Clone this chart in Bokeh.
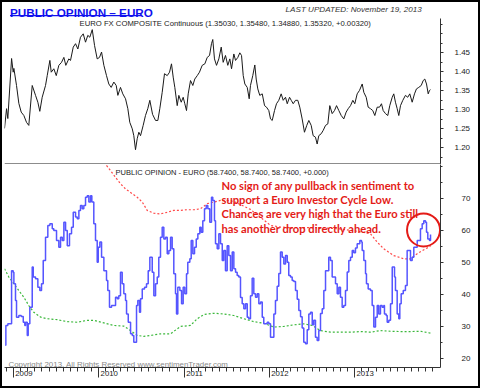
from bokeh.plotting import figure
from bokeh.models import (Range1d, FixedTicker, PrintfTickFormatter, Label,
                          BoxAnnotation, LinearAxis, Span, CustomJSTickFormatter)
from bokeh.layouts import column
from bokeh.core.properties import value
from bokeh.embed import file_html
from bokeh.resources import INLINE

FONT = "Liberation Sans"

# ---------------- data ----------------
price_dates = [2008.894, 2008.918, 2008.933, 2008.977, 2008.996, 2009.004, 2009.035, 2009.062, 2009.090, 2009.121,
               2009.152, 2009.179, 2009.219, 2009.258, 2009.285, 2009.308, 2009.336, 2009.375, 2009.395, 2009.426,
               2009.442, 2009.472, 2009.501, 2009.531, 2009.563, 2009.590, 2009.613, 2009.648, 2009.668, 2009.700,
               2009.727, 2009.754, 2009.785, 2009.817, 2009.844, 2009.871, 2009.894, 2009.923, 2009.950, 2009.981,
               2010.008, 2010.032, 2010.059, 2010.090, 2010.117, 2010.145, 2010.176, 2010.204, 2010.223, 2010.254,
               2010.281, 2010.313, 2010.340, 2010.363, 2010.392, 2010.410, 2010.430, 2010.450, 2010.469, 2010.489,
               2010.520, 2010.547, 2010.574, 2010.598, 2010.630, 2010.665, 2010.692, 2010.715, 2010.743, 2010.770,
               2010.802, 2010.829, 2010.852, 2010.872, 2010.891, 2010.919, 2010.938, 2010.966, 2010.989, 2011.008,
               2011.028, 2011.048, 2011.075, 2011.102, 2011.125, 2011.154, 2011.180, 2011.212, 2011.243, 2011.271,
               2011.298, 2011.321, 2011.336, 2011.356, 2011.380, 2011.407, 2011.435, 2011.458, 2011.485, 2011.512,
               2011.536, 2011.556, 2011.583, 2011.603, 2011.630, 2011.653, 2011.673, 2011.693, 2011.712, 2011.740,
               2011.763, 2011.778, 2011.805, 2011.829, 2011.845, 2011.864, 2011.887, 2011.916, 2011.943, 2011.966,
               2011.993, 2012.013, 2012.033, 2012.060, 2012.083, 2012.110, 2012.138, 2012.162, 2012.189, 2012.209,
               2012.236, 2012.256, 2012.279, 2012.306, 2012.333, 2012.356, 2012.384, 2012.411, 2012.438, 2012.462,
               2012.490, 2012.513, 2012.540, 2012.560, 2012.579, 2012.607, 2012.631, 2012.658, 2012.685, 2012.708,
               2012.736, 2012.763, 2012.787, 2012.814, 2012.842, 2012.872, 2012.900, 2012.924, 2012.951, 2012.978,
               2013.001, 2013.029, 2013.056, 2013.088, 2013.107, 2013.135, 2013.158, 2013.185, 2013.212, 2013.236,
               2013.264, 2013.291, 2013.314, 2013.334, 2013.361, 2013.388, 2013.411, 2013.440, 2013.458, 2013.478,
               2013.498, 2013.517, 2013.537, 2013.564, 2013.595, 2013.622, 2013.646, 2013.674, 2013.701, 2013.724,
               2013.751, 2013.780, 2013.803, 2013.822, 2013.842, 2013.862, 2013.877, 2013.889]
price_vals = [1.251, 1.303, 1.277, 1.435, 1.399, 1.409, 1.364, 1.317, 1.294, 1.285,
              1.267, 1.259, 1.364, 1.338, 1.320, 1.296, 1.333, 1.364, 1.390, 1.430,
              1.399, 1.408, 1.390, 1.417, 1.425, 1.438, 1.417, 1.434, 1.430, 1.465,
              1.474, 1.460, 1.491, 1.500, 1.478, 1.496, 1.491, 1.511, 1.469, 1.434,
              1.438, 1.452, 1.417, 1.390, 1.368, 1.359, 1.373, 1.364, 1.338, 1.359,
              1.342, 1.329, 1.303, 1.267, 1.250, 1.232, 1.195, 1.224, 1.241, 1.232,
              1.259, 1.285, 1.303, 1.325, 1.288, 1.272, 1.272, 1.303, 1.346, 1.395,
              1.390, 1.399, 1.421, 1.386, 1.359, 1.311, 1.338, 1.320, 1.333, 1.316,
              1.298, 1.342, 1.377, 1.364, 1.381, 1.390, 1.399, 1.417, 1.421, 1.438,
              1.443, 1.474, 1.485, 1.434, 1.417, 1.434, 1.465, 1.425, 1.443, 1.417,
              1.434, 1.408, 1.447, 1.430, 1.438, 1.450, 1.443, 1.390, 1.368, 1.359,
              1.329, 1.364, 1.390, 1.418, 1.381, 1.355, 1.338, 1.342, 1.311, 1.307,
              1.298, 1.276, 1.272, 1.298, 1.316, 1.325, 1.342, 1.325, 1.333, 1.316,
              1.333, 1.325, 1.316, 1.325, 1.325, 1.307, 1.276, 1.241, 1.259, 1.272,
              1.259, 1.232, 1.228, 1.210, 1.232, 1.237, 1.246, 1.259, 1.263, 1.311,
              1.290, 1.298, 1.311, 1.298, 1.285, 1.276, 1.294, 1.303, 1.311, 1.325,
              1.316, 1.342, 1.351, 1.368, 1.346, 1.333, 1.307, 1.303, 1.298, 1.285,
              1.307, 1.307, 1.316, 1.298, 1.290, 1.285, 1.311, 1.333, 1.342, 1.320,
              1.303, 1.285, 1.311, 1.325, 1.338, 1.333, 1.342, 1.320, 1.342, 1.355,
              1.359, 1.364, 1.377, 1.381, 1.368, 1.342, 1.351, 1.353]

sent_dates = [2008.903, 2008.910, 2008.933, 2008.977, 2008.996, 2009.004, 2009.023, 2009.035, 2009.062, 2009.090,
              2009.114, 2009.132, 2009.141, 2009.161, 2009.172, 2009.191, 2009.219, 2009.231, 2009.258, 2009.285,
              2009.308, 2009.328, 2009.348, 2009.375, 2009.402, 2009.426, 2009.454, 2009.472, 2009.504, 2009.531,
              2009.551, 2009.571, 2009.590, 2009.610, 2009.630, 2009.656, 2009.680, 2009.700, 2009.727, 2009.747,
              2009.766, 2009.785, 2009.805, 2009.824, 2009.844, 2009.864, 2009.883, 2009.903, 2009.918, 2009.941,
              2009.961, 2009.981, 2009.993, 2010.012, 2010.032, 2010.059, 2010.090, 2010.105, 2010.125, 2010.149,
              2010.176, 2010.196, 2010.216, 2010.234, 2010.254, 2010.274, 2010.293, 2010.313, 2010.325, 2010.345,
              2010.372, 2010.392, 2010.410, 2010.430, 2010.442, 2010.457, 2010.477, 2010.489, 2010.509, 2010.536,
              2010.559, 2010.579, 2010.598, 2010.626, 2010.645, 2010.665, 2010.685, 2010.703, 2010.723, 2010.743,
              2010.762, 2010.782, 2010.802, 2010.821, 2010.841, 2010.860, 2010.879, 2010.899, 2010.911, 2010.926,
              2010.950, 2010.970, 2010.989, 2011.008, 2011.028, 2011.043, 2011.067, 2011.083, 2011.102, 2011.122,
              2011.142, 2011.161, 2011.184, 2011.200, 2011.219, 2011.239, 2011.259, 2011.278, 2011.301, 2011.321,
              2011.336, 2011.356, 2011.368, 2011.388, 2011.407, 2011.427, 2011.447, 2011.465, 2011.485, 2011.505,
              2011.524, 2011.544, 2011.564, 2011.583, 2011.603, 2011.622, 2011.641, 2011.661, 2011.681, 2011.700,
              2011.720, 2011.740, 2011.758, 2011.778, 2011.798, 2011.817, 2011.837, 2011.857, 2011.876, 2011.896,
              2011.916, 2011.934, 2011.954, 2011.974, 2011.993, 2012.013, 2012.033, 2012.052, 2012.071, 2012.091,
              2012.110, 2012.130, 2012.150, 2012.169, 2012.189, 2012.209, 2012.227, 2012.247, 2012.267, 2012.286,
              2012.306, 2012.326, 2012.345, 2012.365, 2012.384, 2012.403, 2012.423, 2012.443, 2012.462, 2012.482,
              2012.502, 2012.520, 2012.540, 2012.560, 2012.579, 2012.599, 2012.619, 2012.638, 2012.658, 2012.696,
              2012.716, 2012.736, 2012.755, 2012.775, 2012.795, 2012.814, 2012.833, 2012.853, 2012.872, 2012.892,
              2012.912, 2012.931, 2012.951, 2012.971, 2012.989, 2013.009, 2013.029, 2013.060, 2013.080, 2013.088,
              2013.107, 2013.127, 2013.138, 2013.158, 2013.185, 2013.205, 2013.224, 2013.244, 2013.264, 2013.282,
              2013.302, 2013.322, 2013.341, 2013.349, 2013.369, 2013.381, 2013.400, 2013.420, 2013.440, 2013.458,
              2013.467, 2013.478, 2013.498, 2013.517, 2013.529, 2013.545, 2013.569, 2013.595, 2013.615, 2013.634,
              2013.654, 2013.674, 2013.693, 2013.713, 2013.733, 2013.751, 2013.771, 2013.791, 2013.810, 2013.830,
              2013.842, 2013.857, 2013.877, 2013.889]
sent_vals = [24.1, 30.3, 30.8, 47.4, 46.9, 43.3, 38.1, 32.9, 33.4, 33.1,
             31.3, 30.3, 31.3, 27.2, 30.8, 36.0, 48.5, 45.4, 44.9, 42.2,
             41.2, 43.3, 50.6, 57.8, 61.5, 62.0, 60.5, 59.9, 56.8, 54.7,
             57.8, 56.8, 62.5, 59.9, 55.2, 58.9, 60.9, 65.6, 64.1, 63.6,
             66.2, 67.7, 66.7, 67.7, 70.3, 70.8, 68.8, 70.8, 68.8, 62.0,
             56.8, 50.0, 54.7, 56.3, 51.6, 47.4, 44.3, 41.2, 36.0, 36.5,
             36.5, 39.1, 38.6, 39.6, 46.9, 43.3, 40.2, 38.1, 33.9, 31.3,
             27.7, 27.2, 25.1, 25.1, 36.5, 38.1, 34.4, 38.6, 41.7, 42.2,
             43.3, 47.4, 51.6, 46.9, 39.6, 43.3, 45.4, 51.6, 57.8, 60.9,
             57.3, 57.8, 52.7, 53.7, 57.8, 54.2, 46.4, 40.2, 33.9, 42.2,
             41.2, 37.1, 42.2, 40.2, 46.4, 50.0, 51.1, 56.8, 52.7, 54.7,
             57.3, 58.9, 60.9, 59.4, 63.0, 66.7, 67.7, 66.7, 62.5, 70.3,
             69.3, 63.0, 55.8, 54.2, 58.9, 55.8, 50.6, 53.7, 47.4, 55.2,
             52.1, 47.4, 53.2, 48.0, 46.9, 45.9, 45.4, 39.0, 37.1, 35.5,
             37.1, 32.9, 32.4, 39.6, 45.0, 40.2, 39.1, 40.2, 37.1, 37.6,
             32.9, 30.8, 30.8, 31.3, 30.8, 26.6, 26.6, 33.9, 38.1, 42.5,
             46.5, 53.2, 51.6, 49.5, 52.1, 50.0, 45.9, 45.4, 44.3, 44.0,
             41.2, 38.5, 35.0, 33.0, 29.5, 25.1, 24.6, 29.0, 33.9, 34.4,
             30.5, 31.9, 26.6, 25.6, 28.7, 34.0, 35.5, 41.2, 47.4, 51.6,
             50.6, 45.4, 45.4, 43.3, 40.2, 42.2, 39.1, 36.0, 36.5, 41.2,
             47.0, 50.6, 51.6, 53.7, 53.0, 54.5, 55.8, 56.8, 56.3, 53.7,
             50.6, 46.4, 43.3, 41.7, 41.2, 36.5, 29.8, 32.9, 36.5, 33.9,
             36.5, 36.0, 36.5, 33.9, 33.4, 31.3, 31.9, 37.1, 48.5, 48.5,
             45.4, 41.2, 33.9, 32.4, 37.1, 40.2, 41.2, 42.8, 53.7, 53.7,
             50.6, 51.6, 54.7, 54.7, 56.8, 56.8, 60.5, 62.0, 63.0, 62.5,
             59.4, 57.3, 56.8, 58.7]

upper_dates = [2010.090, 2010.137, 2010.196, 2010.254, 2010.313, 2010.392, 2010.450, 2010.509, 2010.567, 2010.645,
               2010.723, 2010.802, 2010.879, 2010.958, 2011.036, 2011.114, 2011.192, 2011.271, 2011.348, 2011.427,
               2011.505, 2011.583, 2011.661, 2011.778, 2011.896, 2012.013, 2012.130, 2012.247, 2012.365, 2012.482,
               2012.599, 2012.716, 2012.833, 2012.951, 2013.068, 2013.185, 2013.264, 2013.341, 2013.458, 2013.576,
               2013.654, 2013.733, 2013.830, 2013.889]
upper_vals = [80.2, 78.6, 76.5, 74.5, 72.9, 71.4, 70.3, 68.8, 66.2, 65.3,
              65.1, 65.6, 66.2, 66.2, 66.4, 66.4, 66.7, 68.3, 68.8, 69.3,
              69.3, 69.0, 68.0, 66.5, 64.0, 61.5, 61.0, 60.8, 60.8, 60.8,
              60.8, 60.6, 60.4, 60.0, 59.5, 58.9, 56.3, 54.2, 52.1, 51.1,
              51.1, 52.7, 54.2, 55.0]

lower_dates = [2008.894, 2008.945, 2009.004, 2009.062, 2009.121, 2009.179, 2009.238, 2009.317, 2009.395, 2009.512,
               2009.630, 2009.747, 2009.864, 2009.941, 2010.059, 2010.176, 2010.293, 2010.372, 2010.450, 2010.528,
               2010.606, 2010.723, 2010.841, 2010.958, 2011.075, 2011.154, 2011.231, 2011.348, 2011.465, 2011.583,
               2011.700, 2011.817, 2011.934, 2012.052, 2012.169, 2012.286, 2012.403, 2012.502, 2012.599, 2012.716,
               2012.833, 2012.951, 2013.068, 2013.185, 2013.302, 2013.420, 2013.537, 2013.654, 2013.771, 2013.889]
lower_vals = [48.0, 45.4, 43.3, 41.2, 39.1, 36.5, 34.4, 32.9, 32.4, 32.1,
              31.5, 31.3, 31.9, 31.9, 31.1, 30.3, 30.1, 28.7, 27.2, 26.9,
              27.2, 27.7, 27.7, 30.0, 30.3, 32.4, 33.7, 34.1, 33.9, 33.4,
              32.4, 31.5, 31.0, 29.8, 30.0, 30.5, 30.8, 30.3, 28.7, 28.2,
              28.2, 28.2, 28.4, 28.2, 28.7, 28.5, 28.4, 28.4, 28.5, 27.9]

year_ticks = [2009, 2010, 2011, 2012, 2013]
price_ticks = [1.20, 1.25, 1.30, 1.35, 1.40, 1.45]
sent_ticks = [20, 30, 40, 50, 60, 70]

title_text = "PUBLIC OPINION \u2013 EURO"
updated_text = "LAST UPDATED:  November 19, 2013"
price_caption = "EURO FX COMPOSITE Continuous (1.35030, 1.35480, 1.34880, 1.35320, +0.00320)"
sent_caption = "PUBLIC OPINION - EURO (58.7400, 58.7400, 58.7400, +0.000)"
note_lines = ["No sign of any pullback in sentiment to",
              "support a Euro Investor Cycle Low.",
              "Chances are very high that the Euro still",
              "has another drop directly ahead."]
copyright_text = "Copyright 2013, All Rights Reserved  www.sentimenTrader.com"
last_sentiment = (2013.807, 60.1)

# ---------------- layout ----------------
W = 476
x_rng = Range1d(2008.894, 2014.006)


def style_common(p):
    p.outline_line_color = None
    p.grid.visible = False
    p.background_fill_color = "white"
    p.border_fill_color = "white"


def style_right_axis(ax, standoff):
    ax.axis_line_color = "#333333"
    ax.axis_line_width = 1
    ax.major_tick_line_color = "#333333"
    ax.minor_tick_line_color = "#333333"
    ax.major_tick_in = 0
    ax.major_tick_out = 3
    ax.minor_tick_in = 0
    ax.minor_tick_out = 2
    ax.major_label_standoff = standoff
    ax.major_label_text_font = FONT
    ax.major_label_text_font_size = "8px"
    ax.major_label_text_color = "#222222"


# header strip (title line)
header = figure(width=W, height=16, x_range=Range1d(0, W), y_range=Range1d(16, 0),
                output_backend="svg", toolbar_location=None, x_axis_location=None,
                y_axis_location=None, min_border=0)
style_common(header)
header.add_layout(Label(x=6, y=9.6, text=title_text, text_font=FONT, text_font_style="bold",
                        text_font_size="11.7px", text_color="#1010ee",
                        text_baseline="alphabetic"))
header.add_layout(BoxAnnotation(left=6, right=149, top=12.4, bottom=13.8,
                                fill_color="#1010ee", fill_alpha=1, line_color=None))
header.add_layout(Label(x=458, y=7.4, text=updated_text, text_font=FONT,
                        text_font_style="italic", text_font_size="8.1px",
                        text_color="#333333", text_align="right",
                        text_baseline="alphabetic"))

# price panel
top = figure(width=W, height=146, x_range=x_rng, y_range=Range1d(1.1561, 1.5403),
             output_backend="svg", toolbar_location=None, y_axis_location="right",
             x_axis_location=None, min_border_left=2, min_border_right=38,
             min_border_top=0, min_border_bottom=0)
style_common(top)
ya = top.yaxis[0]
ya.ticker = FixedTicker(ticks=price_ticks,
                        minor_ticks=[round(1.175 + 0.025 * i, 3) for i in range(15)])
ya.formatter = PrintfTickFormatter(format="%.2f")
style_right_axis(ya, 11)

top.line(price_dates, price_vals, line_color="#1a1a1a", line_width=1)
top.text(x=[2009.774], y=[1.5266], text=[price_caption], text_font=value(FONT),
         text_font_size="7.7px", text_color="#222222", text_baseline="alphabetic")
top.add_layout(Span(location=1.1574, dimension="width", line_color="#8c8c8c", line_width=2))

# sentiment panel
bot = figure(width=W, height=222, x_range=x_rng, y_range=Range1d(17.19, 80.51),
             output_backend="svg", toolbar_location=None, y_axis_location="right",
             min_border_left=2, min_border_right=38, min_border_top=0, min_border_bottom=19)
style_common(bot)
yb = bot.yaxis[0]
yb.ticker = FixedTicker(ticks=sent_ticks, minor_ticks=[15 + 5 * i for i in range(14)])
style_right_axis(yb, 18)

xb = bot.xaxis[0]
xb.ticker = FixedTicker(ticks=year_ticks, minor_ticks=[2008 + m / 12 for m in range(10, 72)])
xb.major_label_text_font_size = "0px"
xb.major_label_text_color = None
xb.major_label_standoff = 0
xb.axis_line_color = "#333333"
xb.major_tick_line_color = "#333333"
xb.minor_tick_line_color = "#333333"
xb.major_tick_in = 0
xb.major_tick_out = 10
xb.minor_tick_in = 0
xb.minor_tick_out = 4

year_axis = LinearAxis(ticker=FixedTicker(ticks=[y + 0.122 for y in year_ticks]),
                       formatter=CustomJSTickFormatter(code="return Math.floor(tick).toString();"),
                       axis_line_color=None, major_tick_line_color=None,
                       minor_tick_line_color=None, major_tick_out=0, minor_tick_out=0,
                       major_tick_in=0, minor_tick_in=0, major_label_standoff=-7,
                       major_label_text_font=FONT, major_label_text_font_size="7.8px",
                       major_label_text_color="#222222")
bot.add_layout(year_axis, "below")

bot.line(lower_dates, lower_vals, line_color="#3cb83c", line_width=1.2, line_dash="2 2")
bot.line(upper_dates, upper_vals, line_color="#ff4a4a", line_width=1.2, line_dash="2 2")
bot.step(sent_dates, sent_vals, mode="after", line_color="#5555ff", line_width=1.5)

bot.text(x=[2010.196], y=[78.0], text=[sent_caption], text_font=value(FONT),
         text_font_size="7.5px", text_color="#222222", text_baseline="alphabetic")
bot.text(x=[2011.438] * 4, y=[74.1, 69.6, 65.1, 60.6], text=note_lines,
         text_font=value("Lato"), text_font_style="bold", text_font_size="11.2px",
         text_color="#e41b17", text_baseline="alphabetic")
bot.scatter(x=[last_sentiment[0]], y=[last_sentiment[1]], marker="circle", size=33,
            fill_color=None, line_color="#e41b17", line_width=2)
bot.text(x=[2008.941], y=[18.2], text=[copyright_text], text_font=value(FONT),
         text_font_size="7.9px", text_color="#8a8a8a", text_baseline="alphabetic")

layout = column(header, top, bot, spacing=0, styles={"border": "2px solid black"})

open("out.html", "w").write(file_html(layout, INLINE))
